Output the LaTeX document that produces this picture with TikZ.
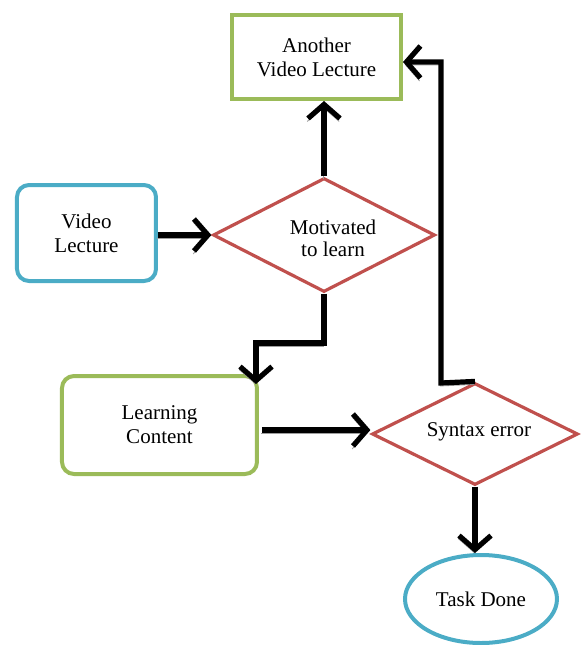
\documentclass[tikz,border=0pt]{standalone}
\usepackage{fontspec}
\setmainfont{Liberation Serif}
\usetikzlibrary{arrows.meta,shapes.geometric}
\definecolor{verde}{HTML}{9BBB59}
\definecolor{azul}{HTML}{4BACC6}
\definecolor{rojo}{HTML}{C0504D}
\tikzset{
  >={Straight Barb[length=7pt,width=16pt]},
  flecha/.style={->, line width=2.6pt,
    preaction={draw=black!38, transform canvas={shift={(-0.4pt,-1.5pt)}}}},
  caja/.style={draw=#1, line width=2pt, align=center, inner sep=0pt},
  rombo/.style={diamond, draw=rojo, line width=1.6pt, align=center, inner sep=0pt},
  texto/.style={font=\fontsize{10.5}{12}\selectfont},
}

\begin{document}
\begin{tikzpicture}[x=0.5pt, y=-0.5pt, texto]
  \useasboundingbox (0,0) rectangle (582,645);
  % cajas
  \node[caja=verde, minimum width=84.5pt, minimum height=42pt] (otro) at (316.5,57) {Another\\Video Lecture};
  \node[caja=azul, rounded corners=6pt, minimum width=69.5pt, minimum height=48pt] (video) at (86.5,233) {Video\\Lecture};
  \node[rombo, minimum width=111pt, minimum height=57pt] (motiv) at (324,235) {};
  \node[align=center] (motivtxt) at (333,238) {Motivated\\[-1pt]to learn};
  \node[caja=verde, rounded corners=6pt, minimum width=97.5pt, minimum height=49pt] (learn) at (159.5,425) {Learning\\Content};
  \node[rombo, minimum width=103pt, minimum height=51pt] (syntax) at (475,434) {};
  \node (syntxt) at (479,432) {Syntax error};
  \node[ellipse, draw=azul, line width=2pt, minimum width=76pt, minimum height=44pt, inner sep=0pt] (task) at (481,599) {Task Done};
  % puntos de quiebre
  \coordinate (codo1) at (256,343);
  \coordinate (fin1) at (256,384);
  \coordinate (ini2) at (262,430);
  \coordinate (codo2) at (441,383);
  \coordinate (codo3) at (441,62);
  % flechas
  \draw[flecha] (video.east |- motiv.west) -- (motiv.west);
  \draw[flecha] (motiv.north) -- (motiv.north |- otro.south);
  \draw[flecha] (motiv.south) |- (codo1) -- (fin1);
  \draw[flecha] (ini2) -- (ini2 -| syntax.west);
  \draw[flecha] (syntax.north) -- (codo2) -- (codo3) -- (codo3 -| otro.east);
  \draw[flecha] (syntax.south) -- (syntax.south |- task.north);
\end{tikzpicture}
\end{document}
